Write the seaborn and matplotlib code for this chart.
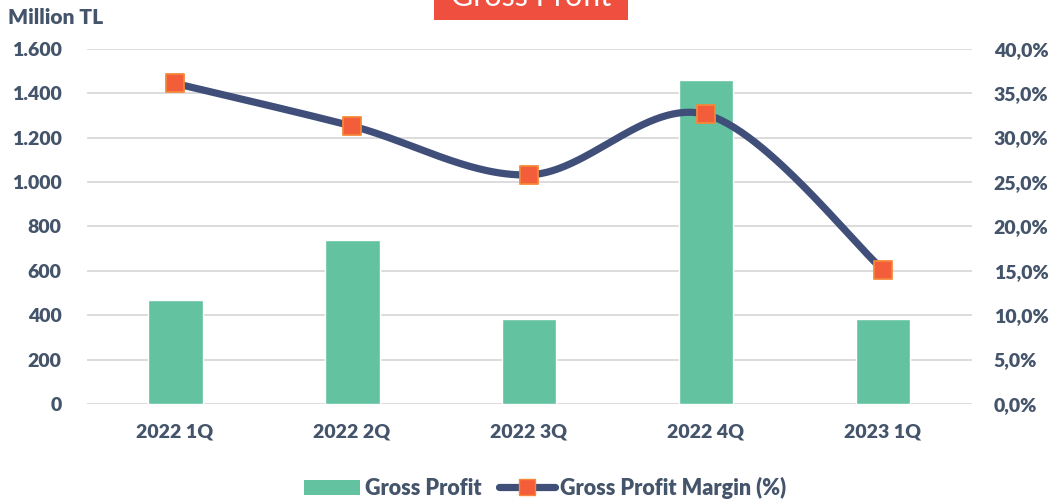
"""Gross Profit (bars) and Gross Profit Margin (smoothed line), quarterly."""
import matplotlib

matplotlib.use("Agg")
import matplotlib.pyplot as plt
import matplotlib.ticker as mticker
import numpy as np
import pandas as pd
import seaborn as sns
from matplotlib.lines import Line2D
from matplotlib.patches import Patch, Rectangle

quarters = ["2022 1Q", "2022 2Q", "2022 3Q", "2022 4Q", "2023 1Q"]
gross_profit = [469, 739, 381, 1458, 384]  # Million TL
margin_pct = [36.1, 31.3, 25.8, 32.6, 15.1]  # %

bar_color = "#63C2A0"
line_color = "#3F4F7A"
marker_face = "#F45D3A"
marker_edge = "#F5883A"
text_color = "#44546A"
title_red = "#EF4F3F"
weight = "heavy"

sns.set_theme(style="white")
plt.rcParams["font.family"] = ["Lato", "DejaVu Sans"]

df = pd.DataFrame({"quarter": quarters, "profit": gross_profit, "margin": margin_pct})

fig = plt.figure(figsize=(10.56, 5.03), dpi=100)
ax = fig.add_axes([0.082, 0.197, 0.838, 0.706])

sns.barplot(data=df, x="quarter", y="profit", color=bar_color, width=0.31,
            saturation=1, ax=ax, zorder=2)
ax.set_ylim(0, 1600)
ax.set_xlim(-0.5, 4.5)
ax.yaxis.set_major_locator(mticker.MultipleLocator(200))
ax.yaxis.set_major_formatter(
    mticker.FuncFormatter(lambda v, _: f"{int(v):,}".replace(",", ".")))
ax.grid(axis="y", color="#D9D9D9", linewidth=1.3, zorder=0)
ax.set_axisbelow(True)
ax.set_xlabel("")
ax.set_ylabel("")
for s in ax.spines.values():
    s.set_visible(False)
ax.tick_params(length=0, labelsize=14, colors=text_color, pad=18)
ax.tick_params(axis="x", pad=14)
for lab in ax.get_xticklabels() + ax.get_yticklabels():
    lab.set_fontweight(weight)

# right axis: margin line, smoothed like Excel (Catmull-Rom between points)
ax2 = ax.twinx()
xs = np.arange(len(margin_pct), dtype=float)
ys = np.array(margin_pct, dtype=float)
px = np.concatenate([[xs[0]], xs, [xs[-1]]])
py = np.concatenate([[ys[0]], ys, [ys[-1]]])
cx, cy = [], []
t = np.linspace(0, 1, 60)
for i in range(1, len(px) - 2):
    p0, p1, p2, p3 = (np.array([px[j], py[j]]) for j in range(i - 1, i + 3))
    c1 = p1 + (p2 - p0) / 6
    c2 = p2 - (p3 - p1) / 6
    seg = ((1 - t)[:, None] ** 3 * p1 + 3 * ((1 - t) ** 2 * t)[:, None] * c1
           + 3 * ((1 - t) * t ** 2)[:, None] * c2 + (t ** 3)[:, None] * p2)
    cx.extend(seg[:, 0])
    cy.extend(seg[:, 1])
ax2.plot(cx, cy, color=line_color, linewidth=5.2, solid_capstyle="round", zorder=3)
sns.scatterplot(x=xs, y=ys, marker="s", s=150, color=marker_face,
                edgecolor=marker_edge, linewidth=1.3, ax=ax2, zorder=4)
ax2.set_ylim(0, 40)
ax2.set_xlim(-0.5, 4.5)
ax2.yaxis.set_major_locator(mticker.MultipleLocator(5))
ax2.yaxis.set_major_formatter(
    mticker.FuncFormatter(lambda v, _: f"{v:.1f}%".replace(".", ",")))
for s in ax2.spines.values():
    s.set_visible(False)
ax2.tick_params(length=0, labelsize=14, colors=text_color, pad=16)
for lab in ax2.get_yticklabels():
    lab.set_fontweight(weight)
ax2.grid(False)

fig.text(0.008, 0.965, "Million TL", fontsize=15, fontweight=weight,
         color=text_color, ha="left", va="center")

# red title box, clipped at top of figure
fig.patches.append(Rectangle((434 / 1056, 1 - 20 / 503), 194 / 1056, 40 / 503,
                             transform=fig.transFigure, facecolor=title_red,
                             edgecolor="none", zorder=5))
fig.text(531 / 1056, 1 - 6 / 503, "Gross Profit", fontsize=22, color="white",
         ha="center", va="baseline", zorder=6)

handles = [
    Patch(facecolor=bar_color, edgecolor="none"),
    Line2D([0], [0], color=line_color, linewidth=5.2, marker="s", markersize=12,
           markerfacecolor=marker_face, markeredgecolor=marker_edge),
]
leg = fig.legend(handles, ["Gross Profit", "Gross Profit Margin (%)"], loc="center",
                 bbox_to_anchor=(0.516, 0.03), ncol=2, frameon=False,
                 prop={"size": 15.5, "weight": weight}, handlelength=2.6,
                 handletextpad=0.25, columnspacing=0.8)
for txt in leg.get_texts():
    txt.set_color(text_color)

fig.savefig("out.png", dpi=100)
plt.close(fig)
